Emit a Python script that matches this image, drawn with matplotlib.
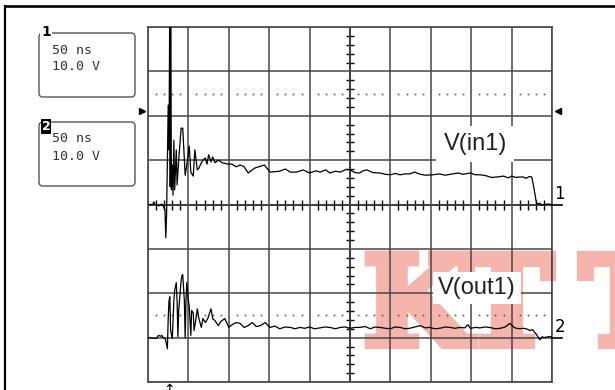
import numpy as np
import matplotlib
matplotlib.use('Agg')
import matplotlib.pyplot as plt
import matplotlib.patheffects as pe
from matplotlib.patches import FancyBboxPatch

# scope settings: 50 ns/div, 10 V/div, 10 x 8 divisions
ns_per_div = 50
volt_per_div = 10
ch2_offset = -30      # channel 2 ground sits 3 divisions below centre

# channel 1 - V(in1)
t_in = [-250, -244, -243, -241, -236, -233, -231, -229, -228, -227, -225, -224,
        -223, -222.5, -222, -221, -220, -219, -218, -217, -215, -214, -212, -209,
        -207, -204, -202, -199, -197, -194, -192, -189, -187, -184, -182, -179,
        -177, -175, -172, -170, -167, -163, -158, -151, -146, -141, -136, -131,
        -126, -118, -106, -99, -87, -80, -74, -66, -58, -50, -42, -37, -30, -25,
        -18, -12, -5, 0, 6, 12, 16, 21, 28, 37, 44, 50, 56, 62, 68, 74, 80, 87,
        94, 103, 110, 118, 127, 134, 140, 149, 155, 161, 168, 175, 182, 190, 196,
        200, 205, 210, 214, 218, 222, 225, 228, 231, 235, 237, 239, 244, 250]
v_in = [0, 0, 0.6, 0, -0.3, 0.1, -0.4, -1.2, -7.5, -2.4, 22.4, 12.3,
        48, 4, 48, 3.3, 8.9, 2.1, 14.5, 3.3, 12.3, 4.4, 10.0, 17.2,
        17.2, 6.6, 8.9, 13.2, 7.3, 6.4, 12.3, 7.8, 8.2, 9.4, 10.0, 10.5,
        9.1, 11.2, 9.6, 10.7, 9.4, 10.0, 9.4, 9.1, 9.1, 8.5, 8.9, 8.5,
        7.1, 8.2, 8.9, 7.3, 7.5, 8.0, 7.3, 7.3, 7.8, 7.1, 7.6, 7.3, 7.8, 7.1,
        7.5, 7.3, 7.9, 7.8, 7.2, 7.1, 7.6, 7.8, 7.2, 7.1, 6.8, 6.7, 7.0, 6.7, 6.9, 6.9, 7.3, 6.8,
        6.6, 6.7, 6.9, 6.6, 6.9, 7.1, 6.8, 7.1, 6.7, 6.7, 6.5, 6.1, 6.2, 6.4, 6.0,
        6.4, 6.1, 6.2, 6.2, 5.9, 6.3, 6.2, 3.3, 0.1, 0.3, -0.2, 0, 0.1, 0]

# channel 2 - V(out1)
t_out = [-250, -240, -237, -234, -233, -231, -229, -228, -226, -225, -224, -223,
         -222, -220, -219, -218, -217, -215, -214, -213, -212, -210, -209, -208,
         -207, -205, -204, -203, -202, -200, -199, -198, -197, -196, -194, -193,
         -191, -189, -187, -184, -182, -179, -176, -172, -170, -167, -163, -160,
         -155, -150, -146, -141, -136, -131, -126, -121, -116, -111, -105, -99,
         -93, -87, -80, -74, -68, -62, -56, -50, -44, -37, -31, -25, -18, -12, -6,
         0, 6, 12, 19, 25, 31, 37, 44, 50, 56, 62, 68, 74, 80, 87, 93, 99, 105,
         111, 118, 124, 130, 136, 142, 146, 149, 155, 161, 167, 173, 180, 186, 192,
         198, 203, 206, 210, 214, 218, 223, 226, 228, 230, 235, 238, 240, 245, 250]
v_out = [0, -0.2, 0.5, 0.3, 0.5, 0, -0.2, -0.7, -2.5, 4.3, 8.3, 9.2,
         1.6, -0.2, 3.8, 8.3, 10.6, 12.4, 8.3, 0.2, 6.1, 10.6, 12.8, 14.0,
         14.2, 8.3, 0, 8.3, 12.4, 8.3, 7.2, 3.8, 0.5, 6.1, 5.6, 1.6,
         3.8, 6.5, 4.3, 2.3, 4.3, 3.4, 4.3, 6.5, 4.3, 3.8, 2.7, 3.6,
         4.3, 2.3, 2.9, 3.4, 3.2, 2.3, 2.7, 3.4, 2.5, 2.7, 3.4, 2.3,
         2.6, 2.0, 2.4, 2.3, 2.0, 2.3, 2.1, 2.4, 2.0, 2.2, 2.4, 2.3, 2.0, 2.3, 2.4,
         2.1, 2.3, 2.3, 2.5, 2.0, 2.4, 2.3, 2.1, 2.0, 2.4, 2.3, 2.0, 2.1, 2.4, 2.7, 2.2, 2.3, 2.0,
         2.1, 2.4, 2.3, 2.1, 2.3, 2.2, 2.9, 2.1, 2.3, 2.2, 2.4, 2.3, 2.0, 2.1, 2.4,
         3.2, 2.3, 2.1, 2.0, 2.1, 2.0, 1.6, 1.8, 1.3, 0.9, -0.5, 0.2, 0, 0.2, 0.2]

ch1_ref = 25        # dotted reference levels
ch2_ref = 5
trig_level = 21     # trigger level arrows
trig_time = -224

panel_lines = ['50 ns', '10.0 V']

W, H = 615, 390
fig = plt.figure(figsize=(W / 100, H / 100), dpi=100)

# background layer in pixel units for the frame and the side panel
bg = fig.add_axes([0, 0, 1, 1], zorder=0)
bg.set_xlim(0, W)
bg.set_ylim(H, 0)
bg.axis('off')

bg.plot([5, W], [5.5, 5.5], color='black', lw=1.9, solid_capstyle='butt')
bg.plot([5, 5], [5, H], color='black', lw=1.6, solid_capstyle='butt')
fig.text(163 / W, 1 - 3 / H, 'in', fontsize=9, va='bottom', color='#222')
fig.text(497 / W, 1 - 3 / H, 'out', fontsize=9, va='bottom', color='#222')

for i, top in enumerate([33, 122]):
    box = FancyBboxPatch((39, top), 96, 64, boxstyle='round,pad=0,rounding_size=4',
                         fc='white', ec='#555555', lw=1.0)
    bg.add_patch(box)
    for j, line in enumerate(panel_lines):
        bg.text(52, top + 17 + j * 17, line, family='DejaVu Sans Mono', fontsize=9.5,
                color='#333333', va='center', ha='left')
    if i == 0:
        bg.text(46, top - 1, '1', fontsize=10, fontweight='bold', color='black',
                ha='center', va='center',
                bbox=dict(boxstyle='square,pad=0.05', fc='white', ec='none'))
    else:
        bg.text(46, top + 4, '2', fontsize=9, fontweight='bold', color='white',
                ha='center', va='center',
                bbox=dict(boxstyle='square,pad=0.08', fc='black', ec='none'))

# scope graticule
ax = fig.add_axes([148 / W, 8 / H, 404 / W, 355 / H], zorder=1)
ax.set_facecolor('none')
ax.set_xlim(-5 * ns_per_div, 5 * ns_per_div)
ax.set_ylim(-4 * volt_per_div, 4 * volt_per_div)
ax.set_xticks(np.arange(-250, 251, ns_per_div))
ax.set_yticks(np.arange(-40, 41, volt_per_div))
ax.tick_params(length=0, labelbottom=False, labelleft=False)
ax.grid(True, color='#474747', lw=1.1, zorder=1)
for s in ax.spines.values():
    s.set_color('#474747')
    s.set_linewidth(1.2)

# centre axes with small ticks
ax.axhline(0, color='black', lw=1.2, zorder=1.5)
ax.axvline(0, color='black', lw=1.2, zorder=1.5)
xt = [t for t in range(-240, 250, 10) if t % 50 != 0]
yt = [v for v in range(-38, 40, 2) if v % 10 != 0]
ax.plot(xt, np.zeros(len(xt)), ls='none', marker='|', ms=6.5, mew=1.0, color='black', zorder=1.5)
ax.plot(np.zeros(len(yt)), yt, ls='none', marker='_', ms=5.5, mew=1.0, color='black', zorder=1.5)

# dotted reference levels
ax.plot(xt, np.full(len(xt), ch1_ref), ls='none', marker='s', ms=1.2, mew=0,
        color='#555555', zorder=1.5)
ax.plot(xt, np.full(len(xt), ch2_ref + ch2_offset), ls='none', marker='s', ms=1.2, mew=0,
        color='#555555', zorder=1.5)

# watermark, heavy slab letters under the grid
heavy = [pe.Stroke(linewidth=6, foreground='#f5b4ac', joinstyle='miter'), pe.Normal()]
for letter, x0 in [('K', 363), ('T', 461), ('T', 580)]:
    ax.text(x0, 345, letter, transform=bg.transData, family='DejaVu Serif',
            fontweight='bold', fontsize=89, color='#f5b4ac',
            ha='left', va='baseline', zorder=0.5, clip_on=False, path_effects=heavy)

# traces
ax.plot(t_in, v_in, color='black', lw=0.9, zorder=3)
ax.plot(t_out, np.array(v_out) + ch2_offset, color='black', lw=0.9, zorder=3)

# channel labels
ax.text(155, 13.6, 'V(in1)', family='Liberation Sans', fontsize=17, color='#222222',
        ha='center', va='center', zorder=4,
        bbox=dict(boxstyle='square,pad=0.3', fc='white', ec='none'))
ax.text(157, ch2_offset + 11.2, 'V(out1)', family='Liberation Sans', fontsize=17,
        color='#222222', ha='center', va='center', zorder=4,
        bbox=dict(boxstyle='square,pad=0.22', fc='white', ec='none'))

# ground markers, trigger arrows
for gnd, name in [(0, '1'), (ch2_offset, '2')]:
    ax.plot([250, 262], [gnd, gnd], color='black', lw=1.2, clip_on=False, zorder=3)
    ax.text(253, gnd + 0.3, name, fontsize=12, color='black', ha='left', va='bottom',
            clip_on=False)
ax.plot([-258], [trig_level], marker='>', ms=5, color='black', clip_on=False, ls='none')
ax.plot([258], [trig_level], marker='<', ms=5, color='black', clip_on=False, ls='none')
ax.text(trig_time, -40.3, '↑', fontsize=10, ha='center', va='top', color='black',
        clip_on=False)

fig.savefig('out.png', dpi=100)
